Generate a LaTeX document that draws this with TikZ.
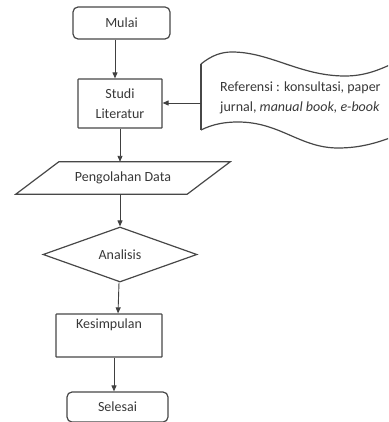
\documentclass[tikz,border=0pt]{standalone}
\usepackage{fontspec}
\setmainfont{Carlito}
\usetikzlibrary{shapes.geometric,arrows.meta}
\begin{document}
\begin{tikzpicture}[x=1pt,y=-1pt,
  line/.style={draw=black!72, line width=1.2pt},
  arr/.style={draw=black!75, line width=0.9pt, -{Triangle[length=6pt,width=5pt]}},
  every node/.style={font=\fontsize{14}{20}\selectfont, text=black!78, inner sep=0pt},
  term/.style={line, rounded corners=5pt},
  proc/.style={line, rounded corners=0.6pt},
  io/.style={},
  decision/.style={line, diamond, aspect=2.8},
]
\useasboundingbox (0,0) rectangle (388,422);
\clip (0,0) rectangle (388,422);

% nodes
\node[term, minimum width=97pt, minimum height=32pt] (mulai) at (121.5,23) {Mulai};
\node[proc, minimum width=84pt, minimum height=49pt, align=center] (studi) at (120,103.5) {Studi\\Literatur};
\node[io, minimum width=171pt, minimum height=32pt] (peng) at (123,178) {Pengolahan Data};
\draw[line] ([xshift=21.5pt]peng.north west) -- ([xshift=21.5pt]peng.north east)
  -- ([xshift=-21.5pt]peng.south east) -- ([xshift=-21.5pt]peng.south west) -- cycle;
\node[decision, minimum width=154pt, minimum height=55pt] (ana) at (120,254.5) {Analisis};
\node[proc, minimum width=106pt, minimum height=43pt, align=center] (kes) at (109,335.5) {Kesimpulan\\[-2pt]\strut};
\node[term, minimum width=101pt, minimum height=30pt] (sel) at (117.5,407) {Selesai};

% document shape
\coordinate (refl) at (201,103);
\draw[line] (201,64) .. controls (212,55) and (222,52) .. (232,52)
  .. controls (270,52) and (300,76) .. (345,76)
  .. controls (365,76) and (380,70) .. (400,60);
\draw[line] (201,64) -- (201,130);
\draw[line] (201,130) .. controls (213,124) and (225,122) .. (238,122)
  .. controls (280,122) and (300,148) .. (338,148)
  .. controls (360,148) and (378,143) .. (400,134);
\node[anchor=west, align=left] (reftext) at (220,98) {Referensi : konsultasi, paper\\jurnal, \textit{manual book, e-book}};

% connectors
\draw[arr] ([xshift=-6.5pt]mulai.south) -- ([xshift=-5pt]studi.north);
\draw[arr] (refl) -- (studi.east |- refl);
\draw[arr] (studi.south) -- (studi.south |- peng.north);
\draw[arr] (peng.south -| ana.north) -- (ana.north);
\draw[arr] ([xshift=-1pt]ana.south) -- ([xshift=9pt]kes.north);
\draw[arr] ([xshift=5pt]kes.south) -- ([xshift=-3.5pt]sel.north);
\end{tikzpicture}
\end{document}
